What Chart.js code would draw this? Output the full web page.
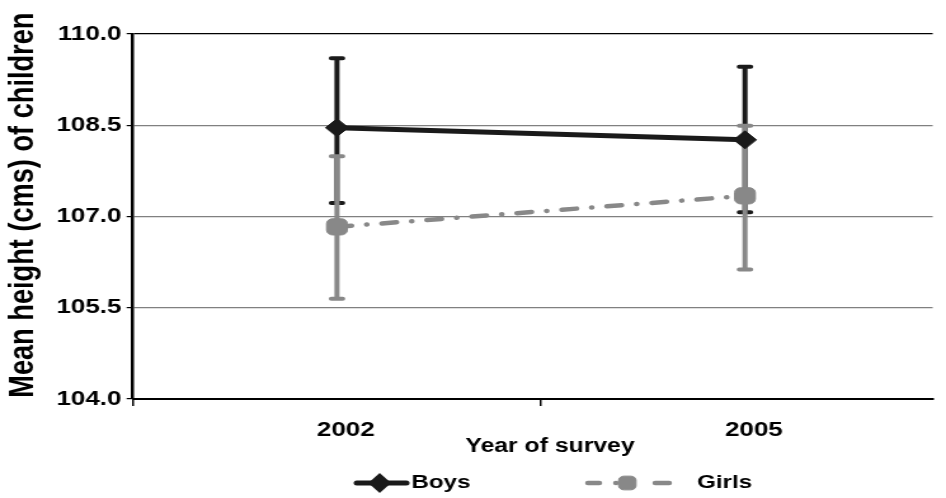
<!DOCTYPE html>
<html>
<head>
<meta charset="utf-8">
<script src="https://cdn.jsdelivr.net/npm/chart.js"></script>
<style>
  html, body { margin: 0; padding: 0; background: #fff; }
  /* the reference is stretched sideways, so the canvas is drawn narrow and widened by css */
  #graficoAltura { width: 946px !important; height: 498px !important; }
</style>
</head>
<body>
<canvas id="graficoAltura" width="745" height="498"></canvas>
<script>
// Datos
const categories = ["2002", "2005"];
const boysMean = [108.46, 108.26];
const boysLow = [107.22, 107.07];
const boysHigh = [109.6, 109.46];
const girlsMean = [106.83, 107.34];
const girlsLow = [105.65, 106.13];
const girlsHigh = [107.99, 108.49];
const yTicks = [104, 105.5, 107, 108.5, 110];

const negro = "#1a1a1a";
const gris = "#888888";
const fuente = "'Liberation Sans', Arial, sans-serif";

const series = [
  { label: "Boys", mean: boysMean, low: boysLow, high: boysHigh, color: negro },
  { label: "Girls", mean: girlsMean, low: girlsLow, high: girlsHigh, color: gris },
];

// Barras de error
const errorBars = {
  id: "errorBars",
  beforeDatasetsDraw(chart) {
    const { ctx, scales } = chart;
    ctx.save();
    ctx.lineCap = "round";
    series.forEach((s) => {
      ctx.strokeStyle = s.color;
      ctx.lineWidth = 4;
      s.mean.forEach((m, i) => {
        const x = scales.x.getPixelForValue(i);
        const yLo = scales.y.getPixelForValue(s.low[i]);
        const yHi = scales.y.getPixelForValue(s.high[i]);
        ctx.beginPath();
        ctx.moveTo(x, yLo);
        ctx.lineTo(x, yHi);
        ctx.moveTo(x - 4.5, yLo);
        ctx.lineTo(x + 4.5, yLo);
        ctx.moveTo(x - 4.5, yHi);
        ctx.lineTo(x + 4.5, yHi);
        ctx.stroke();
      });
    });
    ctx.restore();
  },
};

// Leyenda propia (linea + marcador)
const leyenda = {
  id: "leyenda",
  afterDraw(chart) {
    const { ctx } = chart;
    const y = 483;
    ctx.save();
    ctx.lineCap = "round";
    // Boys
    ctx.strokeStyle = negro;
    ctx.lineWidth = 5;
    ctx.beginPath();
    ctx.moveTo(281, y);
    ctx.lineTo(320, y);
    ctx.stroke();
    ctx.fillStyle = negro;
    ctx.beginPath();
    ctx.moveTo(299, y - 10);
    ctx.lineTo(308, y);
    ctx.lineTo(299, y + 10);
    ctx.lineTo(290, y);
    ctx.closePath();
    ctx.fill();
    // Girls
    ctx.strokeStyle = gris;
    ctx.fillStyle = gris;
    ctx.lineWidth = 4.5;
    ctx.beginPath();
    ctx.moveTo(463, y);
    ctx.lineTo(472, y);
    ctx.moveTo(485, y);
    ctx.lineTo(485.1, y);
    ctx.moveTo(516, y);
    ctx.lineTo(527, y);
    ctx.stroke();
    ctx.lineWidth = 1;
    Chart.helpers.drawPoint(ctx, { pointStyle: "rectRounded", radius: 8, borderWidth: 1 }, 494, y);
    // textos
    ctx.fillStyle = "#000";
    ctx.font = "bold 19px " + fuente;
    ctx.textBaseline = "middle";
    ctx.textAlign = "left";
    ctx.fillText(series[0].label, 324, y);
    ctx.fillText(series[1].label, 549, y);
    ctx.restore();
  },
};

const ctx = document.getElementById("graficoAltura").getContext("2d");

new Chart(ctx, {
  type: "line",
  data: {
    datasets: [
      {
        label: "Boys",
        data: boysMean.map((v, i) => ({ x: i, y: v })),
        borderColor: negro,
        backgroundColor: negro,
        borderWidth: 5,
        pointStyle: "rectRot",
        pointRadius: 9,
        pointBorderWidth: 1,
        pointBackgroundColor: negro,
        pointBorderColor: negro,
      },
      {
        label: "Girls",
        data: girlsMean.map((v, i) => ({ x: i, y: v })),
        borderColor: gris,
        backgroundColor: gris,
        borderWidth: 4.5,
        borderCapStyle: "round",
        borderDash: [11.5, 12, 0.1, 12],
        pointStyle: "rectRounded",
        pointRadius: 9.5,
        pointBorderWidth: 1,
        pointBackgroundColor: gris,
        pointBorderColor: gris,
      },
    ],
  },
  options: {
    responsive: false,
    animation: false,
    devicePixelRatio: 1,
    layout: { padding: { top: 34, right: 0, bottom: 40, left: 0 } },
    plugins: {
      legend: { display: false },
      tooltip: { enabled: false },
    },
    scales: {
      x: {
        type: "linear",
        position: "bottom",
        min: -0.5,
        max: 1.46,
        afterBuildTicks: (scale) => {
          scale.ticks = [-0.5, 0, 0.5, 1].map((v) => ({ value: v }));
        },
        afterFit: (scale) => {
          scale.height = 59;
        },
        ticks: {
          autoSkip: false,
          maxRotation: 0,
          padding: 12,
          labelOffset: 7,
          color: "#000",
          font: { family: fuente, size: 20.5, weight: "bold" },
          callback: (v) => (Number.isInteger(v) ? categories[v] : ""),
        },
        grid: {
          drawOnChartArea: false,
          tickLength: 7,
          lineWidth: 1.5,
          tickColor: (c) => (c.tick && Number.isInteger(c.tick.value) ? "rgba(0,0,0,0)" : "#000"),
        },
        border: { color: "#000", width: 2 },
        title: {
          display: true,
          // leading spaces push the title right, centred between the two years
          text: "     Year of survey",
          color: "#000",
          padding: { top: 0, bottom: 0 },
          font: { family: fuente, size: 19.5, weight: "bold", lineHeight: 1.2 },
        },
      },
      y: {
        min: 104,
        max: 110,
        afterBuildTicks: (scale) => {
          scale.ticks = yTicks.map((v) => ({ value: v }));
        },
        afterFit: (scale) => {
          scale.width = 104.7;
        },
        ticks: {
          padding: 4,
          color: "#000",
          font: { family: fuente, size: 20.5, weight: "bold" },
          callback: (v) => v.toFixed(1),
        },
        grid: {
          color: (c) => (c.tick && c.tick.value === 110 ? "#000" : "#808080"),
          tickColor: "#000",
          tickLength: 5,
          lineWidth: 1.2,
        },
        border: { color: "#000", width: 2.5 },
        title: {
          display: true,
          // leading spaces lift the rotated title a little, as in the picture
          text: "   Mean height (cms) of children",
          color: "#000",
          padding: { top: 2, bottom: 0 },
          font: { family: fuente, size: 27.2, weight: "bold", lineHeight: 1.2 },
        },
      },
    },
  },
  plugins: [errorBars, leyenda],
});
</script>
</body>
</html>
